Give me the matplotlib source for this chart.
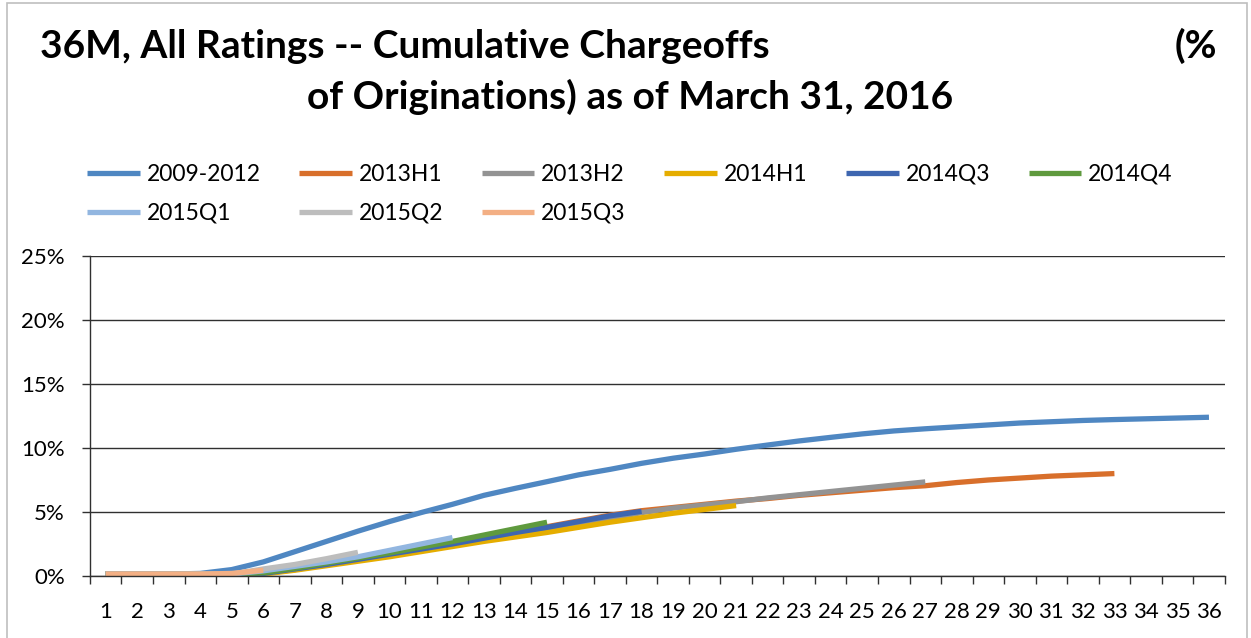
import matplotlib
matplotlib.use("Agg")
import matplotlib.pyplot as plt
from matplotlib.patches import Rectangle
from matplotlib.ticker import FuncFormatter, FixedLocator

plt.rcParams['font.family'] = ['Lato', 'DejaVu Sans']

months = list(range(1, 37))
labels = ["2009-2012", "2013H1", "2013H2", "2014H1", "2014Q3", "2014Q4",
          "2015Q1", "2015Q2", "2015Q3"]
colors = ['#4F87C2', '#D86F2B', '#939393', '#E5AD00', '#3E66B0', '#5F9A3E',
          '#92B6E0', '#BDBDBD', '#F3AF84']

# cumulative chargeoffs, % of originations, by month on book
s2009_2012 = [0.15, 0.15, 0.15, 0.2, 0.5, 1.1, 1.9, 2.7, 3.5, 4.25, 4.95, 5.6,
              6.3, 6.85, 7.37, 7.9, 8.33, 8.8, 9.2, 9.53, 9.9, 10.23, 10.55,
              10.83, 11.1, 11.33, 11.5, 11.65, 11.8, 11.95, 12.05, 12.15,
              12.22, 12.28, 12.34, 12.4]
s2013h1 = [0.15, 0.15, 0.15, 0.15, 0.15, 0.2, 0.5, 0.9, 1.3, 1.7, 2.1, 2.5,
           2.95, 3.4, 3.85, 4.3, 4.75, 5.1, 5.35, 5.6, 5.85, 6.05, 6.3, 6.5,
           6.7, 6.9, 7.05, 7.3, 7.5, 7.65, 7.8, 7.9, 8.0]
s2013h2 = [0.15, 0.15, 0.15, 0.15, 0.15, 0.2, 0.5, 0.9, 1.25, 1.65, 2.05, 2.45,
           2.85, 3.25, 3.65, 4.1, 4.5, 4.95, 5.3, 5.55, 5.8, 6.1, 6.35, 6.6,
           6.85, 7.1, 7.35]
s2014h1 = [0.15, 0.15, 0.15, 0.15, 0.15, 0.15, 0.45, 0.8, 1.15, 1.5, 1.9, 2.3,
           2.7, 3.05, 3.4, 3.8, 4.2, 4.55, 4.9, 5.2, 5.5]
s2014q3 = [0.15, 0.15, 0.15, 0.15, 0.15, 0.2, 0.55, 0.9, 1.3, 1.7, 2.1, 2.5,
           2.95, 3.4, 3.8, 4.25, 4.7, 5.05]
s2014q4 = [0.15, 0.15, 0.15, 0.15, 0.15, 0.25, 0.6, 1.0, 1.4, 1.8, 2.25, 2.7,
           3.2, 3.7, 4.2]
s2015q1 = [0.15, 0.15, 0.15, 0.15, 0.15, 0.4, 0.75, 1.1, 1.5, 2.0, 2.5, 3.0]
s2015q2 = [0.15, 0.15, 0.15, 0.15, 0.15, 0.55, 0.9, 1.35, 1.85]
s2015q3 = [0.15, 0.15, 0.15, 0.15, 0.2, 0.45]

series = [s2009_2012, s2013h1, s2013h2, s2014h1, s2014q3, s2014q4,
          s2015q1, s2015q2, s2015q3]

fig = plt.figure(figsize=(12.51, 6.38), dpi=100)
ax = fig.add_axes([0.0719, 0.0972, 0.9071, 0.5016])

lines = []
for vals, lab, col in zip(series, labels, colors):
    ln, = ax.plot(months[:len(vals)], vals, color=col, lw=3.8, label=lab,
                  solid_capstyle='butt', solid_joinstyle='round')
    lines.append(ln)

ax.set_xlim(0.5, 36.5)
ax.set_ylim(0, 25)
ax.set_yticks([0, 5, 10, 15, 20, 25])
ax.yaxis.set_major_formatter(FuncFormatter(lambda v, p: "%d%%" % v))
ax.grid(axis='y', color='#303030', lw=1.0)
ax.set_axisbelow(True)

ax.set_xticks(months)
ax.set_xticklabels([str(m) for m in months])
ax.xaxis.set_minor_locator(FixedLocator([m + 0.5 for m in range(0, 37)]))
ax.tick_params(axis='x', which='major', length=0, pad=19, labelsize=16)
ax.tick_params(axis='x', which='minor', length=6, width=1, color='#303030')
ax.tick_params(axis='y', length=6, width=1, color='#303030', pad=12,
               labelsize=16)

for s in ['top', 'right']:
    ax.spines[s].set_visible(False)
for s in ['left', 'bottom']:
    ax.spines[s].set_color('#303030')
    ax.spines[s].set_linewidth(1.0)

# title (wrapped and justified like the original)
fig.text(40 / 1251, 1 - 58 / 638, "36M, All Ratings -- Cumulative Chargeoffs",
         fontsize=28, fontweight='bold', ha='left', va='baseline')
fig.text(1217 / 1251, 1 - 58 / 638, "(%", fontsize=28, fontweight='bold',
         ha='right', va='baseline')
fig.text(630 / 1251, 1 - 109 / 638, "of Originations) as of March 31, 2016",
         fontsize=28, fontweight='bold', ha='center', va='baseline')

# legend filled row by row, as in the original
order = [0, 6, 1, 7, 2, 8, 3, 4, 5]
ax.legend([lines[i] for i in order], [labels[i] for i in order],
          loc='upper left', bbox_to_anchor=(87 / 1251, 1 - 164 / 638),
          bbox_transform=fig.transFigure, ncol=6, frameon=False,
          fontsize=16.5, handlelength=2.3, handletextpad=0.3,
          columnspacing=1.68, labelspacing=0.78, borderpad=0,
          borderaxespad=0)

# outer chart frame
fig.patches.append(Rectangle((7 / 1251, -0.1), (1247 - 7) / 1251, 1.1 - 3 / 638,
                             transform=fig.transFigure, fill=False,
                             edgecolor='#BFBFBF', lw=1.2))

fig.savefig("out.png", dpi=100)
